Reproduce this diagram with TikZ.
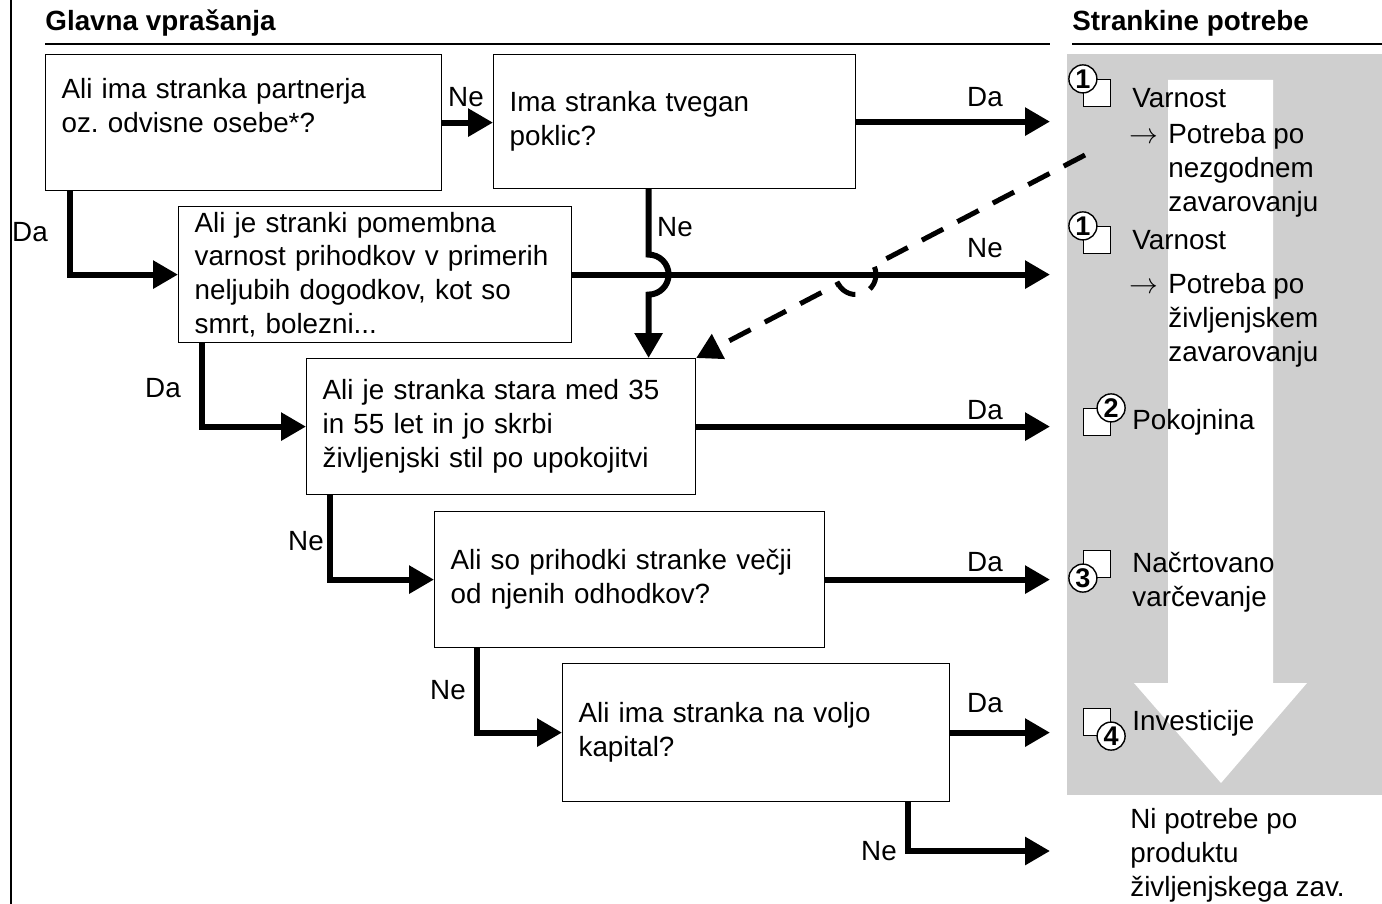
\documentclass[tikz,border=0pt]{standalone}
\usepackage{fontspec}
\setmainfont{Liberation Sans}
\usetikzlibrary{positioning,calc,arrows.meta}

\definecolor{needgray}{RGB}{207,207,207}
\frenchspacing

\begin{document}
\begin{tikzpicture}[x=0.5pt, y=-0.5pt,
    font=\fontsize{13.9}{16.9}\selectfont,
    question/.style={draw, line width=0.6pt, anchor=north west, align=left,
        inner xsep=8pt, inner ysep=0pt, minimum height=68pt},
    flow/.style={line width=3pt, -{Triangle[length=12.5pt,width=13.5pt]}},
    hint/.style={line width=2.5pt, dash pattern=on 12pt off 8pt,
        -{Triangle[length=12.5pt,width=13.5pt]}},
    answer/.style={inner sep=0pt},
    need/.style={anchor=north west, align=left, inner sep=0pt},
    head/.style={anchor=base west, inner sep=0pt,
        font=\fontsize{13.9}{16.9}\selectfont\bfseries},
    needsq/.style={draw, fill=white, line width=0.6pt, minimum size=13.5pt, inner sep=0pt},
    needno/.style={draw, fill=white, circle, line width=0.7pt, minimum size=14pt,
        inner sep=0pt, font=\fontsize{13.5}{13.5}\selectfont\bfseries}
]
    \useasboundingbox (0,0) rectangle (1382,904);

    \fill[needgray] (1067,54) rectangle (1382,795);
    \fill[white] (1168,80) -- (1273,80) -- (1273,683) -- (1307,683)
        -- (1221,783) -- (1134,683) -- (1168,683) -- cycle;

    \draw[line width=1pt] (11,0) -- (11,904);
    \node[head] (mainq) at (45,31) {Glavna vprašanja};
    \node[head] (needhead) at (1072,31) {Strankine potrebe};
    \draw[line width=0.75pt] (45,44) -- (1050,44);
    \draw[line width=0.75pt] (1072,44) -- (1382,44);

    \node[question, text width=182pt] (partner) at (45,54)
        {Ali ima stranka partnerja\\oz. odvisne osebe*?\\~};
    \node[question, text width=165pt, minimum height=67pt] (risk) at (493,54)
        {Ima stranka tvegan\\poklic?};
    \node[question, text width=180.5pt] (income) at (178,206)
        {Ali je stranki pomembna\\varnost prihodkov v primerih\\neljubih dogodkov, kot so\\smrt, bolezni...};
    \node[question, text width=178.5pt] (retire) at (306,358)
        {Ali je stranka stara med 35\\in 55 let in jo skrbi\\življenjski stil po upokojitvi};
    \node[question, text width=179pt] (savings) at (434,511)
        {Ali so prihodki stranke večji\\od njenih odhodkov?};
    \node[question, text width=177.5pt, minimum height=69pt] (capital) at (562,663)
        {Ali ima stranka na voljo\\kapital?};

    \coordinate (needs) at (1050,0);
    \coordinate (incomeend) at (income.east -| needs);
    \coordinate (noneed) at (1050,851);

    \draw[flow] (partner.east) -- (partner.east -| risk.west);
    \draw[flow] (risk.east) -- (risk.east -| needs);
    \draw[flow] ([xshift=12.5pt]partner.south west) |- (income.west);
    \draw[flow] (income.east) -- (incomeend);
    \coordinate (jump) at ([xshift=-13pt]risk.south |- income.east);
    \draw[flow] ([xshift=-13pt]risk.south) -- ([yshift=10pt]jump)
        arc[start angle=-90, end angle=90, radius=20] -- (retire.north -| jump);
    \draw[flow] ([xshift=12pt]income.south west) |- (retire.west);
    \draw[flow] (retire.east) -- (retire.east -| needs);
    \draw[flow] ([xshift=12pt]retire.south west) |- (savings.west);
    \draw[flow] (savings.east) -- (savings.east -| needs);
    \draw[flow] ([xshift=21.5pt]savings.south west) |- (capital.west);
    \draw[flow] (capital.east) -- (capital.east -| needs);
    \draw[flow] ([xshift=-21pt]capital.south east) |- (noneed);

    \coordinate (hintstart) at (1085,155);
    \coordinate (cross) at (intersection of hintstart--retire.north east and income.east--incomeend);
    \draw[hint] (hintstart) -- ($(cross)!10pt!(hintstart)$)
        arc[start angle=-27.5, end angle=152.5, radius=20] -- (retire.north east);

    \node[answer] (ne1) at (466,97) {Ne};
    \node[answer] (da1) at (985,97) {Da};
    \node[answer] (da2) at (30,232) {Da};
    \node[answer] (ne2) at (675,227) {Ne};
    \node[answer] (ne3) at (985,248) {Ne};
    \node[answer] (da3) at (163,388) {Da};
    \node[answer] (da4) at (985,410) {Da};
    \node[answer] (ne4) at (306,541) {Ne};
    \node[answer] (da5) at (985,562) {Da};
    \node[answer] (ne5) at (448,690) {Ne};
    \node[answer] (da6) at (985,703) {Da};
    \node[answer] (ne6) at (879,851) {Ne};

    \foreach \k/\y/\c in {1/93/north west, 1/240/north west, 2/422/north east,
        3/564/south west, 4/722/south east}{
        \node[needsq] (sq\y) at (1097,\y) {};
        \node[needno] (no\y) at (sq\y.\c) {\k};
    }

    \node[need] (safe1) at (1132,88) {Varnost};
    \node[need] (accident) at (1168,123)
        {\llap{$\rightarrow$\hspace{5pt}}Potreba po\\nezgodnem\\zavarovanju};
    \node[need] (safe2) at (1132,230) {Varnost};
    \node[need] (life) at (1168,273)
        {\llap{$\rightarrow$\hspace{5pt}}Potreba po\\življenjskem\\zavarovanju};
    \node[need] (pension) at (1132,409) {Pokojnina};
    \node[need] (saving) at (1132,552) {Načrtovano\\varčevanje};
    \node[need] (invest) at (1132,710) {Investicije};
    \node[need] (noproduct) at (1130,808) {Ni potrebe po\\produktu\\življenjskega zav.};
\end{tikzpicture}
\end{document}
